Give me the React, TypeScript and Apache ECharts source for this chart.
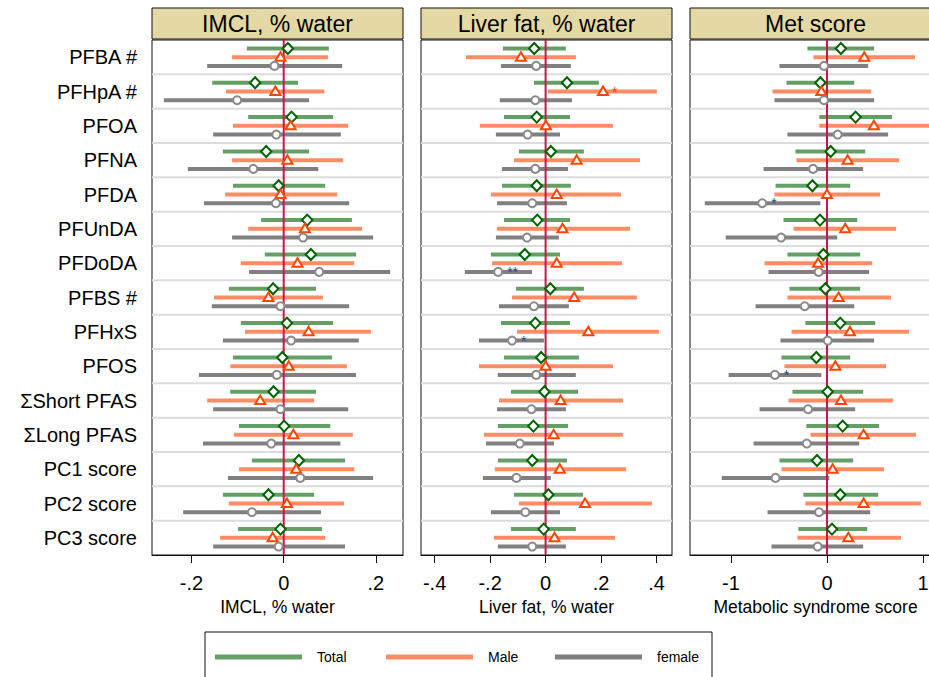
import React, { useEffect, useRef } from 'react';
import * as echarts from 'echarts';

const FONT = '"Liberation Sans", Arial, Helvetica, sans-serif';

const rowLabels = [
  'PFBA #', 'PFHpA #', 'PFOA', 'PFNA', 'PFDA', 'PFUnDA', 'PFDoDA', 'PFBS #',
  'PFHxS', 'PFOS', 'ΣShort PFAS', 'ΣLong PFAS', 'PC1 score', 'PC2 score', 'PC3 score',
];
const groupNames = ['Total', 'Male', 'female'];
const panelTitles = ['IMCL, % water', 'Liver fat, % water', 'Met score'];
const axisTitles = ['IMCL, % water', 'Liver fat, % water', 'Metabolic syndrome score'];
const axisTicks = [[-0.2, 0, 0.2], [-0.4, -0.2, 0, 0.2, 0.4], [-1, 0, 1]];

// [lower CI, estimate, upper CI]
type T = [number, number, number];
const imclTotal: T[] = [
  [-0.080, 0.009, 0.098], [-0.155, -0.062, 0.031], [-0.077, 0.017, 0.107], [-0.132, -0.038, 0.055],
  [-0.110, -0.011, 0.090], [-0.049, 0.051, 0.148], [-0.041, 0.059, 0.157], [-0.119, -0.023, 0.070],
  [-0.093, 0.007, 0.107], [-0.110, -0.003, 0.105], [-0.116, -0.022, 0.070], [-0.097, 0.001, 0.101],
  [-0.069, 0.033, 0.133], [-0.132, -0.033, 0.066], [-0.099, -0.007, 0.083],
];
const imclMale: T[] = [
  [-0.112, -0.007, 0.096], [-0.125, -0.018, 0.088], [-0.110, 0.015, 0.140], [-0.112, 0.008, 0.129],
  [-0.127, -0.007, 0.116], [-0.077, 0.046, 0.170], [-0.093, 0.030, 0.153], [-0.151, -0.033, 0.085],
  [-0.084, 0.054, 0.189], [-0.116, 0.011, 0.137], [-0.166, -0.051, 0.066], [-0.108, 0.021, 0.150],
  [-0.097, 0.027, 0.153], [-0.119, 0.007, 0.131], [-0.138, -0.024, 0.090],
];
const imclFemale: T[] = [
  [-0.166, -0.020, 0.127], [-0.260, -0.101, 0.055], [-0.153, -0.016, 0.124], [-0.208, -0.066, 0.075],
  [-0.173, -0.017, 0.142], [-0.112, 0.042, 0.194], [-0.075, 0.077, 0.231], [-0.156, -0.007, 0.142],
  [-0.132, 0.016, 0.163], [-0.184, -0.015, 0.157], [-0.153, -0.007, 0.140], [-0.175, -0.027, 0.123],
  [-0.121, 0.036, 0.194], [-0.218, -0.069, 0.081], [-0.153, -0.011, 0.133],
];
const liverTotal: T[] = [
  [-0.154, -0.041, 0.073], [-0.042, 0.077, 0.192], [-0.150, -0.032, 0.088], [-0.096, 0.019, 0.138],
  [-0.157, -0.032, 0.091], [-0.150, -0.030, 0.088], [-0.197, -0.075, 0.052], [-0.107, 0.017, 0.138],
  [-0.161, -0.037, 0.088], [-0.150, -0.016, 0.120], [-0.125, -0.004, 0.117], [-0.172, -0.044, 0.081],
  [-0.172, -0.048, 0.077], [-0.114, 0.010, 0.135], [-0.125, -0.007, 0.109],
];
const liverMale: T[] = [
  [-0.287, -0.089, 0.109], [0.008, 0.207, 0.401], [-0.237, 0.001, 0.243], [-0.114, 0.112, 0.340],
  [-0.197, 0.040, 0.272], [-0.175, 0.061, 0.304], [-0.193, 0.040, 0.275], [-0.121, 0.103, 0.329],
  [-0.103, 0.154, 0.408], [-0.240, 0.000, 0.243], [-0.168, 0.054, 0.279], [-0.222, 0.029, 0.279],
  [-0.183, 0.051, 0.290], [-0.096, 0.142, 0.383], [-0.186, 0.032, 0.250],
];
const liverFemale: T[] = [
  [-0.161, -0.034, 0.091], [-0.165, -0.037, 0.095], [-0.179, -0.065, 0.052], [-0.157, -0.037, 0.081],
  [-0.175, -0.048, 0.077], [-0.179, -0.067, 0.048], [-0.291, -0.171, -0.049], [-0.168, -0.042, 0.084],
  [-0.240, -0.121, -0.006], [-0.172, -0.034, 0.109], [-0.175, -0.051, 0.073], [-0.215, -0.093, 0.030],
  [-0.226, -0.105, 0.019], [-0.197, -0.073, 0.052], [-0.172, -0.048, 0.073],
];
const metTotal: T[] = [
  [-0.204, 0.145, 0.491], [-0.422, -0.069, 0.284], [-0.080, 0.298, 0.678], [-0.329, 0.038, 0.398],
  [-0.536, -0.152, 0.242], [-0.453, -0.073, 0.315], [-0.412, -0.038, 0.346], [-0.391, -0.017, 0.346],
  [-0.225, 0.138, 0.502], [-0.474, -0.111, 0.242], [-0.360, 0.007, 0.377], [-0.215, 0.163, 0.543],
  [-0.495, -0.104, 0.273], [-0.246, 0.138, 0.533], [-0.298, 0.052, 0.419],
];
const metMale: T[] = [
  [-0.142, 0.388, 0.917], [-0.568, -0.059, 0.460], [-0.080, 0.488, 1.100], [-0.318, 0.215, 0.751],
  [-0.547, 0.000, 0.554], [-0.349, 0.190, 0.720], [-0.651, -0.093, 0.471], [-0.412, 0.121, 0.668],
  [-0.370, 0.239, 0.855], [-0.443, 0.087, 0.616], [-0.401, 0.145, 0.689], [-0.173, 0.381, 0.927],
  [-0.474, 0.059, 0.595], [-0.225, 0.381, 0.979], [-0.308, 0.222, 0.772],
];
const metFemale: T[] = [
  [-0.495, -0.031, 0.429], [-0.547, -0.031, 0.491], [-0.412, 0.111, 0.637], [-0.661, -0.145, 0.377],
  [-1.273, -0.675, -0.069], [-1.055, -0.478, 0.107], [-0.609, -0.087, 0.439], [-0.744, -0.232, 0.284],
  [-0.484, 0.007, 0.491], [-1.024, -0.543, -0.059], [-0.702, -0.197, 0.294], [-0.765, -0.211, 0.336],
  [-1.097, -0.536, 0.024], [-0.619, -0.083, 0.450], [-0.578, -0.097, 0.377],
];

const noSig = ['', '', '', '', '', '', '', '', '', '', '', '', '', '', ''];
const liverMaleSig = ['', '*', '', '', '', '', '', '', '', '', '', '', '', '', ''];
const liverFemaleSig = ['', '', '', '', '', '', '**', '', '*', '', '', '', '', '', ''];
const metFemaleSig = ['', '', '', '', '*', '', '', '', '', '*', '', '', '', '', ''];

const panelData = [
  [imclTotal, imclMale, imclFemale],
  [liverTotal, liverMale, liverFemale],
  [metTotal, metMale, metFemale],
];
const panelSig = [
  [noSig, noSig, noSig],
  [noSig, liverMaleSig, liverFemaleSig],
  [noSig, noSig, metFemaleSig],
];
const panelRange = [
  [-0.2857, 0.2588],
  [-0.449, 0.4555],
  [-1.427, 1.1875],
];

const barColors = ['#64a066', '#ff8c64', '#808080'];
const markerColors = ['#006400', '#ff4500', '#8a8a8a'];
const sigColors = ['#006400', '#ff4500', '#2c4c7c'];
const rowOffsets = [-0.254, 0, 0.254];

const PANEL_LEFT = 152;
const PANEL_STEP = 269;
const PANEL_W = 251;
const PLOT_TOP = 40;
const PLOT_H = 515;

function fmt(v: number): string {
  if (Math.abs(v) < 1e-9) return '0';
  const s = String(Math.abs(Number(v.toFixed(3)))).replace(/^0/, '');
  return (v < 0 ? '-' : '') + s;
}

function buildOption() {
  const grid: any[] = [];
  const xAxis: any[] = [];
  const yAxis: any[] = [];
  const series: any[] = [];
  const graphic: any[] = [];

  for (let p = 0; p < 3; p++) {
    const left = PANEL_LEFT + p * PANEL_STEP;
    grid.push({
      left, top: PLOT_TOP, width: PANEL_W, height: PLOT_H,
      outerBoundsMode: 'none', containLabel: false,
      show: true, borderColor: '#111', borderWidth: 1, backgroundColor: '#fff',
    });
    xAxis.push({
      type: 'value', gridIndex: p, min: panelRange[p][0], max: panelRange[p][1],
      splitLine: { show: false },
      axisLine: { show: true, lineStyle: { color: '#111', width: 1 } },
      axisTick: { show: true, length: 8, customValues: axisTicks[p], lineStyle: { color: '#111', width: 1 } },
      axisLabel: {
        customValues: axisTicks[p], formatter: fmt, fontSize: 20, color: '#000',
        margin: 18, fontFamily: FONT,
      },
      name: axisTitles[p], nameLocation: 'middle', nameGap: 43,
      nameTextStyle: { fontSize: 17.5, color: '#000', verticalAlign: 'middle', fontFamily: FONT },
    });
    yAxis.push({
      type: 'category', gridIndex: p, data: rowLabels, inverse: true,
      axisLine: { show: true, lineStyle: { color: '#111', width: 1 } },
      axisTick: { show: p === 0, alignWithLabel: true, length: 9, lineStyle: { color: '#111' } },
      axisLabel: { show: p === 0, fontSize: 20, color: '#000', margin: 15, fontFamily: FONT },
      splitLine: { show: false },
    });

    // row separators
    series.push({
      type: 'custom', xAxisIndex: p, yAxisIndex: p, z: 1, silent: true,
      data: rowLabels.map((_, i) => [0, i]),
      encode: { x: 0, y: 1 },
      renderItem: (params: any, api: any) => {
        const i = api.value(1);
        if (i === 0) return null;
        const c = api.coord([0, i]);
        const band = api.size([0, 1])[1];
        const y = c[1] - band / 2;
        const cs = params.coordSys;
        return {
          type: 'line',
          shape: { x1: cs.x, y1: y, x2: cs.x + cs.width, y2: y },
          style: { stroke: '#dcdcdc', lineWidth: 2 },
        };
      },
    });

    // CI bars
    for (let g = 0; g < 3; g++) {
      const arr = panelData[p][g];
      series.push({
        type: 'custom', name: groupNames[g], xAxisIndex: p, yAxisIndex: p, z: 2, silent: true,
        data: arr.map((t, i) => [t[0], t[1], t[2], i]),
        encode: { x: [0, 1, 2], y: 3 },
        renderItem: (params: any, api: any) => {
          const i = api.value(3);
          const band = api.size([0, 1])[1];
          const lo = api.coord([api.value(0), i]);
          const hi = api.coord([api.value(2), i]);
          const y = lo[1] + rowOffsets[g] * band;
          return {
            type: 'rect',
            shape: { x: lo[0], y: y - 2, width: hi[0] - lo[0], height: 4 },
            style: { fill: barColors[g] },
          };
        },
      });
    }

    // zero line
    series.push({
      type: 'custom', xAxisIndex: p, yAxisIndex: p, z: 3, silent: true,
      data: [[0, 0]],
      encode: { x: 0, y: 1 },
      renderItem: (params: any, api: any) => {
        const cs = params.coordSys;
        const x = api.coord([0, 0])[0];
        return {
          type: 'line',
          shape: { x1: x, y1: cs.y, x2: x, y2: cs.y + cs.height },
          style: { stroke: '#c8174a', lineWidth: 2 },
        };
      },
    });

    // markers
    for (let g = 0; g < 3; g++) {
      const arr = panelData[p][g];
      const sig = panelSig[p][g];
      series.push({
        type: 'custom', name: groupNames[g] + ' estimate', xAxisIndex: p, yAxisIndex: p, z: 4, silent: true,
        data: arr.map((t, i) => [t[1], i]),
        encode: { x: 0, y: 1 },
        renderItem: (params: any, api: any) => {
          const i = api.value(1);
          const band = api.size([0, 1])[1];
          const c = api.coord([api.value(0), i]);
          const x = c[0];
          const y = c[1] + rowOffsets[g] * band;
          const children: any[] = [];
          const st = { fill: '#fff', stroke: markerColors[g], lineWidth: 2 };
          if (g === 0) {
            children.push({ type: 'polygon', shape: { points: [[x, y - 5.5], [x + 5.2, y], [x, y + 5.5], [x - 5.2, y]] }, style: st });
          } else if (g === 1) {
            children.push({ type: 'polygon', shape: { points: [[x, y - 5], [x + 5, y + 3.5], [x - 5, y + 3.5]] }, style: st });
          } else {
            children.push({ type: 'circle', shape: { cx: x, cy: y, r: 4 }, style: st });
          }
          const s = sig[params.dataIndex];
          if (s) {
            children.push({
              type: 'text',
              style: {
                text: s, x: x + 9, y: y, fill: sigColors[g], fontSize: 14, fontFamily: FONT,
                align: 'left', verticalAlign: 'middle', textAlign: 'left', textVerticalAlign: 'middle',
              },
            });
          }
          return { type: 'group', children };
        },
      });
    }

    // title box
    graphic.push({
      type: 'rect', shape: { x: left, y: 8, width: PANEL_W, height: 31 },
      style: { fill: '#e4d9a4', stroke: '#111', lineWidth: 1 },
    });
    graphic.push({
      type: 'text', x: left + PANEL_W / 2, y: 24,
      style: {
        text: panelTitles[p], fontSize: 23, fill: '#000', fontFamily: FONT,
        align: 'center', verticalAlign: 'middle', textAlign: 'center', textVerticalAlign: 'middle',
      },
    });
  }

  // legend box
  graphic.push({
    type: 'rect', shape: { x: 205, y: 632, width: 507, height: 70 },
    style: { fill: '#fff', stroke: '#111', lineWidth: 1 },
  });
  const legLineX = [215, 386, 555];
  for (let g = 0; g < 3; g++) {
    graphic.push({
      type: 'line', shape: { x1: legLineX[g], y1: 657, x2: legLineX[g] + 87, y2: 657 },
      style: { stroke: barColors[g], lineWidth: 5 },
    });
    graphic.push({
      type: 'text', x: legLineX[g] + 102, y: 657,
      style: {
        text: groupNames[g], fontSize: 14, fill: '#000', fontFamily: FONT,
        align: 'left', verticalAlign: 'middle', textAlign: 'left', textVerticalAlign: 'middle',
      },
    });
  }

  return {
    animation: false,
    backgroundColor: '#fff',
    textStyle: { fontFamily: FONT },
    grid, xAxis, yAxis, series, graphic,
  };
}

export default function App() {
  const ref = useRef<HTMLDivElement>(null);
  useEffect(() => {
    if (!ref.current) return;
    const chart = echarts.init(ref.current, undefined, { renderer: 'svg' });
    chart.setOption(buildOption() as any);
    return () => chart.dispose();
  }, []);
  return (
    <div
      ref={ref}
      style={{ position: 'absolute', left: 0, top: 0, width: 929, height: 677, background: '#fff' }}
    />
  );
}
